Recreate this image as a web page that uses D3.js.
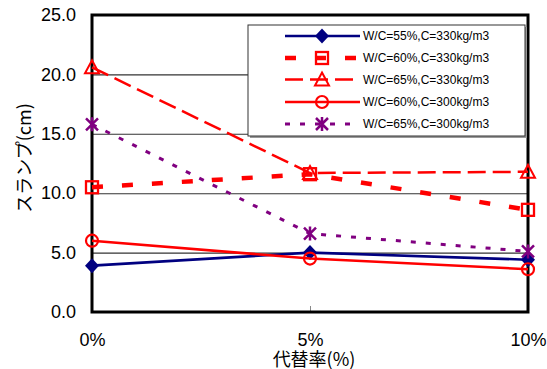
<!DOCTYPE html>
<html><head><meta charset="utf-8">
<script src="https://cdn.jsdelivr.net/npm/d3@7"></script>
<style>body{margin:0;background:#fff}svg{display:block}</style>
</head><body>
<svg id="c" width="547" height="369"></svg>
<script>
const categories = ["0%", "5%", "10%"];
const yTicks = [0, 5, 10, 15, 20, 25];
const seriesNames = ["W/C=55%,C=330kg/m3", "W/C=60%,C=330kg/m3", "W/C=65%,C=330kg/m3", "W/C=60%,C=300kg/m3", "W/C=65%,C=300kg/m3"];
const s1 = [3.9, 5.0, 4.4];
const s2 = [10.5, 11.6, 8.6];
const s3 = [20.6, 11.7, 11.8];
const s4 = [6.0, 4.5, 3.6];
const s5 = [15.8, 6.6, 5.1];
const yTitle = "スランプ(cm)";
const xTitle = "代替率(%)";

const styles = [
  {color:"#000080", width:2.6, dash:null, marker:"diamond"},
  {color:"#ff0000", width:4.5, dash:"11,19", marker:"square"},
  {color:"#ff0000", width:2.5, dash:"18,7", marker:"triangle"},
  {color:"#ff0000", width:2.5, dash:null, marker:"circle"},
  {color:"#800080", width:3, dash:"5,10", marker:"star"}
];
const allSeries = [s1, s2, s3, s4, s5];

const L = 92, R = 528, T = 15, B = 312;
const svg = d3.select("#c");
const x = d3.scalePoint().domain(categories).range([L, R]).padding(0);
const y = d3.scaleLinear().domain([0, 25]).range([B, T]);

// gridlines
svg.append("g").attr("transform", `translate(${L},0)`)
  .call(d3.axisLeft(y).tickValues(yTicks.slice(1, -1)).tickSize(-(R - L)).tickFormat(""))
  .call(g => g.select(".domain").remove())
  .call(g => g.selectAll("line").attr("stroke", "#333").attr("stroke-width", 1.1));

// y labels
svg.append("g").attr("transform", `translate(${L},0)`)
  .call(d3.axisLeft(y).tickValues(yTicks).tickSize(0).tickPadding(16).tickFormat(d3.format(".1f")))
  .call(g => g.select(".domain").remove())
  .call(g => g.selectAll("text").attr("font-family", "Liberation Sans, Arial, sans-serif").attr("font-size", 18).attr("fill", "#000"));

// x axis
svg.append("g").attr("transform", `translate(0,${B})`)
  .call(d3.axisTop(x).tickSize(6).tickFormat(""))
  .call(g => g.select(".domain").remove())
  .call(g => g.selectAll("line").attr("stroke", "#888"));
svg.append("g").attr("transform", `translate(0,${B})`)
  .call(d3.axisBottom(x).tickSize(0).tickPadding(21))
  .call(g => g.select(".domain").remove())
  .call(g => g.selectAll("text").attr("font-family", "Liberation Sans, Arial, sans-serif").attr("font-size", 18).attr("fill", "#000"));

// plot border
svg.append("rect").attr("x", L).attr("y", T).attr("width", R - L).attr("height", B - T)
  .attr("fill", "none").attr("stroke", "#000").attr("stroke-width", 3);

// titles
svg.append("text").attr("transform", "translate(23,158) rotate(-90)")
  .attr("text-anchor", "middle").attr("dominant-baseline", "central")
  .attr("font-family", "Noto Sans CJK JP").attr("font-size", 18).text(yTitle);
svg.append("text").attr("x", 314).attr("y", 366)
  .attr("text-anchor", "middle")
  .attr("font-family", "Noto Sans CJK JP").attr("font-size", 18).text(xTitle);

function drawMarker(g, type, cx, cy, color) {
  if (type === "diamond") {
    g.append("path").attr("d", `M${cx},${cy-7.5}L${cx+7},${cy}L${cx},${cy+7.5}L${cx-7},${cy}Z`).attr("fill", color);
  } else if (type === "square") {
    g.append("rect").attr("x", cx-6).attr("y", cy-6).attr("width", 12).attr("height", 12)
      .attr("fill", "none").attr("stroke", color).attr("stroke-width", 2.3);
  } else if (type === "triangle") {
    g.append("path").attr("d", `M${cx},${cy-7}L${cx+7},${cy+6}L${cx-7},${cy+6}Z`)
      .attr("fill", "none").attr("stroke", color).attr("stroke-width", 2);
  } else if (type === "circle") {
    g.append("circle").attr("cx", cx).attr("cy", cy).attr("r", 6)
      .attr("fill", "none").attr("stroke", color).attr("stroke-width", 2.2);
  } else if (type === "star") {
    g.append("path").attr("d", `M${cx-6},${cy-6}L${cx+6},${cy+6}M${cx-6},${cy+6}L${cx+6},${cy-6}M${cx},${cy-7}L${cx},${cy+7}`)
      .attr("stroke", color).attr("stroke-width", 2.5).attr("fill", "none");
  }
}

const line = d3.line().x((d, i) => x(categories[i])).y(d => y(d));
allSeries.forEach((vals, k) => {
  const st = styles[k];
  const g = svg.append("g");
  g.append("path").datum(vals).attr("d", line).attr("fill", "none")
    .attr("stroke", st.color).attr("stroke-width", st.width)
    .attr("stroke-dasharray", st.dash);
  vals.forEach((v, i) => drawMarker(g, st.marker, x(categories[i]), y(v), st.color));
});

// legend
const lg = svg.append("g");
lg.append("rect").attr("x", 250).attr("y", 27).attr("width", 277).attr("height", 111).attr("fill", "#999");
lg.append("rect").attr("x", 248).attr("y", 25).attr("width", 277).attr("height", 111)
  .attr("fill", "#fff").attr("stroke", "#333").attr("stroke-width", 1);
const rowsY = [36, 58, 79.5, 102, 124];
seriesNames.forEach((name, k) => {
  const st = styles[k];
  const yy = rowsY[k];
  lg.append("line").attr("x1", 285).attr("x2", 360).attr("y1", yy).attr("y2", yy)
    .attr("stroke", st.color).attr("stroke-width", st.width).attr("stroke-dasharray", st.dash);
  drawMarker(lg, st.marker, 322, yy, st.color);
  lg.append("text").attr("x", 363).attr("y", yy).attr("dominant-baseline", "central")
    .attr("font-family", "Liberation Sans, Arial, sans-serif").attr("font-size", 12).text(name);
});
</script>
</body></html>
